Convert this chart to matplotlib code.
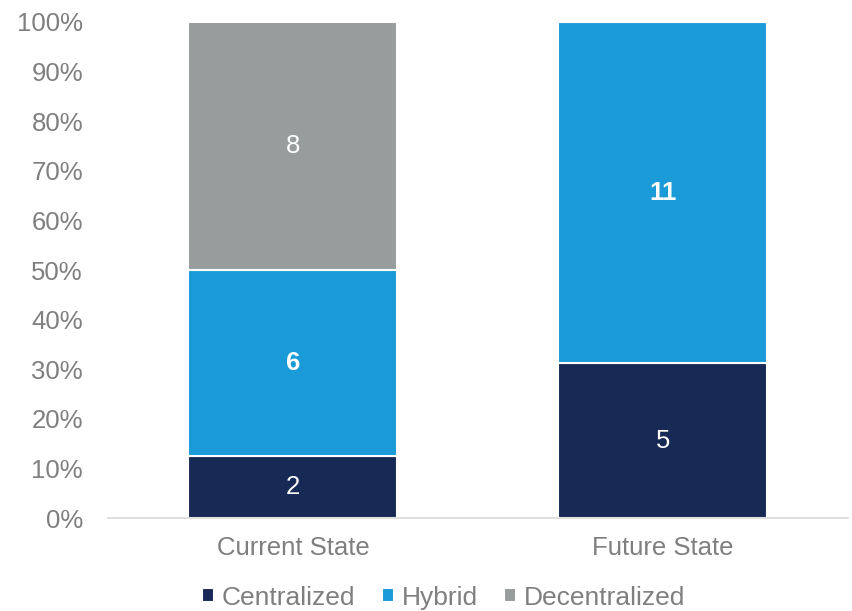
import numpy as np
import matplotlib.pyplot as plt

plt.rcParams['font.family'] = ['Liberation Sans', 'DejaVu Sans']

states = ['Current State', 'Future State']
series = ['Centralized', 'Hybrid', 'Decentralized']
counts = {
    'Centralized': [2, 5],
    'Hybrid': [6, 11],
    'Decentralized': [8, 0],
}
colors = {'Centralized': '#172a55', 'Hybrid': '#1a9ad6', 'Decentralized': '#979c9c'}
bold = {'Centralized': False, 'Hybrid': True, 'Decentralized': False}

totals = np.sum([counts[s] for s in series], axis=0)

fig = plt.figure(figsize=(8.52, 6.11), dpi=100)
ax = fig.add_axes([0.1268, 0.152, 0.8682, 0.812])

x = np.arange(len(states))
bottom = np.zeros(len(states))
for s in series:
    frac = np.array(counts[s]) / totals
    ax.bar(x, frac, 0.565, bottom=bottom, color=colors[s], edgecolor='white',
           linewidth=1.5, label=s)
    for i in range(len(states)):
        if counts[s][i] > 0:
            ax.text(x[i], bottom[i] + frac[i] / 2, str(counts[s][i]), ha='center',
                    va='center', color='white', fontsize=18.5,
                    fontweight='bold' if bold[s] else 'normal')
    bottom += frac

ax.set_xlim(-0.5, 1.5)
ax.set_ylim(0, 1)
ax.set_yticks(np.arange(0, 1.01, 0.1))
ax.set_yticklabels([f'{int(round(v * 100))}%' for v in np.arange(0, 1.01, 0.1)])
ax.set_xticks(x)
ax.set_xticklabels(states)
ax.tick_params(axis='both', length=0, labelsize=18.5, colors='#7f7f7f')
ax.tick_params(axis='x', pad=13)
ax.tick_params(axis='y', pad=18)
for sp in ['top', 'right', 'left']:
    ax.spines[sp].set_visible(False)
ax.spines['bottom'].set_color('#d9d9d9')
ax.spines['bottom'].set_linewidth(1.2)

leg = ax.legend(loc='center', bbox_to_anchor=(0.454, -0.16), ncol=3,
                frameon=False, fontsize=19, handlelength=0.45, handleheight=0.45,
                handletextpad=0.3, columnspacing=1.0, borderpad=0)
for t in leg.get_texts():
    t.set_color('#7f7f7f')

fig.savefig('out.png', dpi=100)
